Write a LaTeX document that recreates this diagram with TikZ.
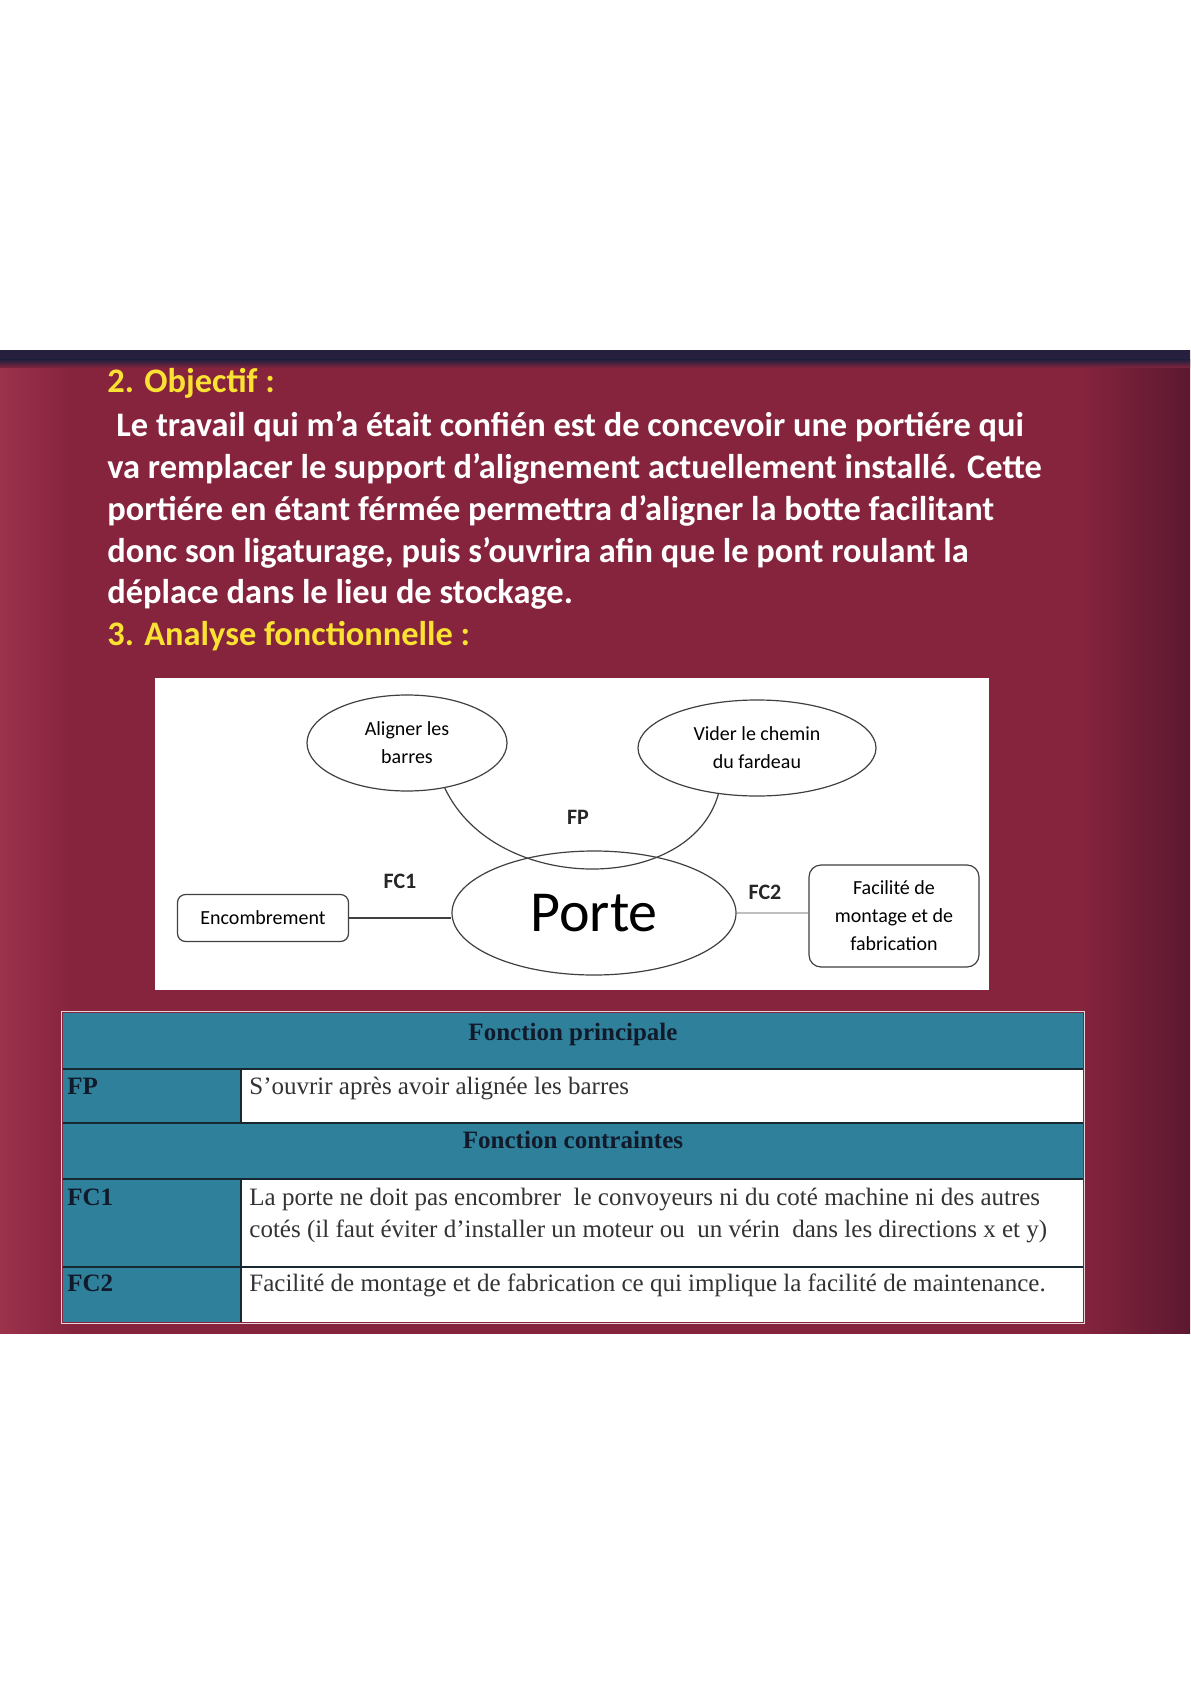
\documentclass[tikz,border=0pt]{standalone}
\usepackage{fontspec}
\setmainfont{Liberation Serif}
\newfontfamily\calibri{Carlito}
\usepackage{xcolor}
\usetikzlibrary{shapes.geometric,positioning,calc}

\definecolor{slidebg}{RGB}{134,36,62}
\definecolor{slidedark}{RGB}{92,24,48}
\definecolor{slidelight}{RGB}{156,50,76}
\definecolor{bandnavy}{RGB}{38,32,62}
\definecolor{titleyellow}{RGB}{250,226,50}
\definecolor{tabteal}{RGB}{47,128,155}
\definecolor{tabline}{RGB}{24,40,48}
\definecolor{inkgray}{RGB}{64,64,64}
\definecolor{tagink}{RGB}{16,26,42}

\begin{document}
\begin{tikzpicture}[
    x=0.5pt, y=-0.5pt,
    bubble/.style={ellipse, draw=inkgray, line width=0.6pt, fill=white, align=center, inner sep=0pt, font=\calibri\fontsize{10}{14}\selectfont},
    box/.style={rectangle, rounded corners=4pt, draw=inkgray, line width=0.6pt, fill=white, align=center, inner sep=0pt, font=\calibri\fontsize{10}{14}\selectfont},
    flabel/.style={inner sep=0pt, text=black!85, font=\calibri\bfseries\fontsize{11}{13}\selectfont},
    link/.style={draw=inkgray, line width=0.6pt},
    slidetext/.style={anchor=base west, inner sep=0pt, text=white, font=\calibri\bfseries\fontsize{17.2}{20.75}\selectfont},
    slidetitle/.style={slidetext, text=titleyellow},
    cell/.style={anchor=base west, inner sep=0pt, text=black!80, font=\fontsize{12.5}{16}\selectfont},
    cellhead/.style={anchor=base, inner sep=0pt, text=tagink, font=\bfseries\fontsize{12.5}{16}\selectfont},
    celltag/.style={cell, text=tagink, font=\bfseries\fontsize{12.5}{16}\selectfont}
]
    \useasboundingbox (0,0) rectangle (1190,1684);
    \fill[white] (0,0) rectangle (1190,1684);

    % Slide background (curtain stripes)
    \begin{scope}
        \clip (0,351) rectangle (1190,1333);
        \fill[slidebg] (0,340) rectangle (1190,1345);
        \shade[left color=slidelight, middle color=slidedark, right color=slidebg] (0,340) rectangle (70,1345);
        \shade[left color=slidebg, middle color=slidedark!70!slidebg, right color=slidebg] (210,340) rectangle (280,1345);
        \shade[left color=slidebg, middle color=slidedark!60!slidebg, right color=slidebg] (490,340) rectangle (570,1345);
        \shade[left color=slidebg, middle color=slidedark, right color=slidebg] (725,340) rectangle (800,1345);
        \shade[left color=slidebg, middle color=slidelight, right color=slidebg] (860,340) rectangle (1000,1345);
        \shade[left color=slidebg, middle color=slidelight, right color=slidedark] (1080,340) rectangle (1190,1345);
        \fill[bandnavy] (0,340) rectangle (1190,360);
        \shade[top color=bandnavy, bottom color=slidebg] (0,360) rectangle (1190,368);
    \end{scope}

    % Objectif text
    \node[slidetitle] (obj_title) at (107,393) {2. Objectif :};
    \node[slidetext] (obj_l1) at (116,437) {Le travail qui m’a était confién est de concevoir une portiére qui};
    \node[slidetext] (obj_l2) at (107,479) {va remplacer le support d’alignement actuellement installé. Cette};
    \node[slidetext] (obj_l3) at (107,520) {portiére en étant férmée permettra d’aligner la botte facilitant};
    \node[slidetext] (obj_l4) at (107,562) {donc son ligaturage, puis s’ouvrira afin que le pont roulant la};
    \node[slidetext] (obj_l5) at (107,603) {déplace dans le lieu de stockage.};
    \node[slidetitle] (af_title) at (107,645) {3. Analyse fonctionnelle :};

    % Functional diagram
    \fill[white] (155,678) rectangle (989,990);
    \node[bubble, minimum width=100pt, minimum height=48pt] (align_fn) at (407,743) {Aligner les\\barres};
    \node[bubble, minimum width=119pt, minimum height=48pt] (vider_fn) at (757,748) {Vider le chemin\\du fardeau};
    \node[bubble, minimum width=142pt, minimum height=62pt, font=\calibri\fontsize{29}{32}\selectfont] (porte) at (594,913) {Porte};
    \node[box, minimum width=85.5pt, minimum height=23.5pt] (encomb) at (263,918) {Encombrement};
    \node[box, rounded corners=6pt, minimum width=85pt, minimum height=51pt] (facil) at (894,916) {Facilité de\\montage et de\\fabrication};

    \node[flabel] (fp_lbl) at (578,817) {FP};
    \node[flabel] (fc1_lbl) at (400,881) {FC1};
    \node[flabel] (fc2_lbl) at (765,892) {FC2};

    \draw[link] (align_fn.-50) .. controls (495,895) and (690,895) .. (vider_fn.-130);
    \draw[link] (encomb.east) -- (encomb.east -| porte.west);
    \draw[link, draw=black!25] (porte.east) -- (porte.east -| facil.west);

    % Table of functions
    \fill[tabteal] (63,1013) rectangle (1083,1322);
    \fill[white] (241,1069) rectangle (1083,1123);
    \fill[white] (241,1179) rectangle (1083,1322);
    \draw[tabline, line width=1pt] (63,1069) -- (1083,1069);
    \draw[tabline, line width=1pt] (63,1123) -- (1083,1123);
    \draw[tabline, line width=1pt] (63,1179) -- (1083,1179);
    \draw[tabline, line width=1pt] (63,1267) -- (1083,1267);
    \draw[tabline, line width=1pt] (241,1069) -- (241,1123);
    \draw[tabline, line width=1pt] (241,1179) -- (241,1322);
    \draw[white!80!slidebg, line width=0.6pt] (61.5,1011.5) rectangle (1084.5,1323.5);

    \node[cellhead] (hdr_fp) at (573,1040) {Fonction principale};
    \node[celltag] (tag_fp) at (67,1094) {FP};
    \node[cell] (txt_fp) at (249,1094) {S’ouvrir après avoir alignée les barres};
    \node[cellhead] (hdr_fc) at (573,1148) {Fonction contraintes};
    \node[celltag] (tag_fc1) at (67,1205) {FC1};
    \node[cell] (txt_fc1a) at (249,1205) {La porte ne doit pas encombrer\ \ le convoyeurs ni du coté machine ni des autres};
    \node[cell] (txt_fc1b) at (249,1237) {cotés (il faut éviter d’installer un moteur ou\ \ un vérin\ \ dans les directions x et y)};
    \node[celltag] (tag_fc2) at (67,1291) {FC2};
    \node[cell] (txt_fc2) at (249,1291) {Facilité de montage et de fabrication ce qui implique la facilité de maintenance.};

\end{tikzpicture}
\end{document}
